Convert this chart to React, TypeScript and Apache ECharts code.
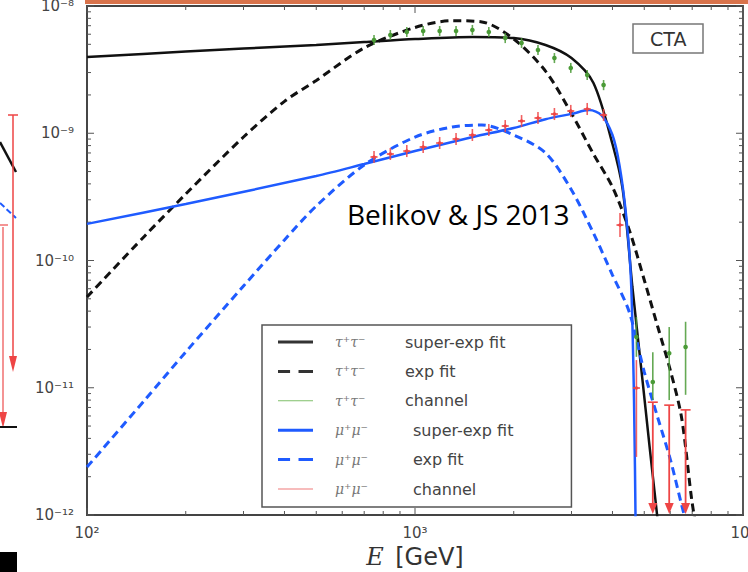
import React, { useEffect, useRef } from 'react';
import * as echarts from 'echarts';

// ---- fitted curves (E in GeV, flux) ----
const tauSuperE = [100, 200, 300, 500, 700, 1000, 1500, 2000, 2500, 3000, 3500, 4000, 4300, 4600, 4900, 5200, 5600];
const tauSuperF = [3.97e-9, 4.39e-9, 4.63e-9, 4.94e-9, 5.21e-9, 5.5e-9, 5.71e-9, 5.6e-9, 4.94e-9, 3.9e-9, 2.48e-9, 8.23e-10, 3.58e-10, 6.19e-11, 1.38e-11, 3.3e-12, 5.8e-13];

const tauExpE = [100, 150, 200, 300, 400, 500, 700, 1000, 1300, 1600, 2000, 2500, 3000, 3500, 4000, 4500, 5000, 5500, 6000, 6500, 7000, 7500];
const tauExpF = [5.17e-11, 1.56e-10, 3.33e-10, 9.34e-10, 1.78e-9, 2.6e-9, 4.68e-9, 6.78e-9, 7.66e-9, 7.5e-9, 5.5e-9, 3.08e-9, 1.43e-9, 6.87e-10, 3.78e-10, 1.74e-10, 7.03e-11, 3.0e-11, 1.38e-11, 5.79e-12, 1.24e-12, 4.4e-13];

const muSuperE = [100, 200, 500, 700, 1000, 1500, 2000, 2500, 3000, 3400, 3700, 4000, 4200, 4400, 4555, 4653, 4718];
const muSuperF = [1.94e-10, 2.78e-10, 4.61e-10, 5.73e-10, 7.25e-10, 9.34e-10, 1.1e-9, 1.29e-9, 1.42e-9, 1.52e-9, 1.39e-9, 9.69e-10, 5.63e-10, 2.28e-10, 7.03e-11, 8.0e-12, 4.4e-13];

const muExpE = [100, 150, 200, 300, 400, 500, 700, 1000, 1300, 1600, 2000, 2500, 3000, 3500, 4000, 4500, 5000, 5500, 6000, 6500, 7000];
const muExpF = [2.38e-12, 8.01e-12, 1.91e-11, 6.3e-11, 1.45e-10, 2.68e-10, 5.63e-10, 9.34e-10, 1.12e-9, 1.16e-9, 9.69e-10, 7.0e-10, 3.58e-10, 1.64e-10, 7.69e-11, 3.94e-11, 1.33e-11, 5.79e-12, 2.75e-12, 1.2e-12, 5.7e-13];

// ---- simulated channel points with error bars ----
const tauChE = [750, 841, 944, 1059, 1189, 1334, 1496, 1679, 1884, 2113, 2371, 2661, 2985, 3350, 3758, 4732, 5309, 5957, 6683];
const tauChF = [5.4e-9, 5.92e-9, 6.25e-9, 6.36e-9, 6.36e-9, 6.36e-9, 6.48e-9, 6.25e-9, 5.6e-9, 5.12e-9, 4.51e-9, 3.9e-9, 3.26e-9, 2.87e-9, 2.39e-9, 2.5e-11, 1.11e-11, 1.87e-11, 2.09e-11];
const tauChLo = [4.93e-9, 5.41e-9, 5.71e-9, 5.81e-9, 5.81e-9, 5.81e-9, 5.92e-9, 5.71e-9, 5.11e-9, 4.68e-9, 4.12e-9, 3.56e-9, 2.98e-9, 2.62e-9, 2.18e-9, 1.75e-11, 8.0e-12, 8.0e-12, 8.8e-12];
const tauChHi = [5.91e-9, 6.48e-9, 6.84e-9, 6.96e-9, 6.96e-9, 6.96e-9, 7.1e-9, 6.84e-9, 6.13e-9, 5.61e-9, 4.94e-9, 4.27e-9, 3.57e-9, 3.14e-9, 2.62e-9, 3.6e-11, 1.9e-11, 3.0e-11, 3.3e-11];

const muChE = [750, 841, 944, 1059, 1189, 1334, 1496, 1679, 1884, 2113, 2371, 2661, 2985, 3350, 3758, 4217, 4732];
const muChF = [6.51e-10, 6.87e-10, 7.25e-10, 7.8e-10, 8.38e-10, 9.01e-10, 9.69e-10, 1.06e-9, 1.14e-9, 1.248e-9, 1.318e-9, 1.416e-9, 1.496e-9, 1.551e-9, 1.391e-9, 1.9e-10, 9.95e-12];
const muChLo = [5.84e-10, 6.16e-10, 6.5e-10, 7.0e-10, 7.52e-10, 8.08e-10, 8.69e-10, 9.51e-10, 1.02e-9, 1.12e-9, 1.18e-9, 1.27e-9, 1.34e-9, 1.39e-9, 1.25e-9, 1.53e-10, 2.86e-12];
const muChHi = [7.26e-10, 7.66e-10, 8.08e-10, 8.7e-10, 9.34e-10, 1.005e-9, 1.08e-9, 1.18e-9, 1.27e-9, 1.39e-9, 1.47e-9, 1.58e-9, 1.67e-9, 1.73e-9, 1.55e-9, 2.36e-10, 1.65e-11];

const muLimE = [5309, 5957, 6683];
const muLimF = [7.7e-12, 7.3e-12, 6.7e-12];
const muLimTip = [1.0e-12, 1.0e-12, 1.0e-12];

// ---- axes ----
const xTickValues = [100, 1000, 10000];
const xTickLabels = ['10²', '10³', '10⁴'];
const yTickValues = [1e-12, 1e-11, 1e-10, 1e-9, 1e-8];
const yTickLabels = ['10⁻¹²', '10⁻¹¹', '10⁻¹⁰', '10⁻⁹', '10⁻⁸'];
const minorXTicks = [200, 300, 400, 500, 600, 700, 800, 900, 2000, 3000, 4000, 5000, 6000, 7000, 8000, 9000];
const minorYTicks = [
  2e-12, 3e-12, 4e-12, 5e-12, 6e-12, 7e-12, 8e-12, 9e-12,
  2e-11, 3e-11, 4e-11, 5e-11, 6e-11, 7e-11, 8e-11, 9e-11,
  2e-10, 3e-10, 4e-10, 5e-10, 6e-10, 7e-10, 8e-10, 9e-10,
  2e-9, 3e-9, 4e-9, 5e-9, 6e-9, 7e-9, 8e-9, 9e-9,
];

const NAMES = {
  tauSuper: 'τ⁺τ⁻ super-exp fit',
  tauExp: 'τ⁺τ⁻ exp fit',
  tauCh: 'τ⁺τ⁻ channel',
  muSuper: 'μ⁺μ⁻ super-exp fit',
  muExp: 'μ⁺μ⁻ exp fit',
  muCh: 'μ⁺μ⁻ channel',
};

const BLACK = '#111111';
const BLUE = '#1f5bff';
const GREEN = '#4a9a36';
const RED = '#ee4545';

const SOLID_ICON = 'path://M0,0H35V3H0Z';
const DASH_ICON = 'path://M0,0H10V2.5H0Z M17,0H29V2.5H17Z';
const THIN_ICON = 'path://M0,0H40V1.3H0Z';

const zip = (a: number[], b: number[]) => a.map((v, i) => [v, b[i]]);
const zip4 = (a: number[], b: number[], c: number[], d: number[]) => a.map((v, i) => [v, b[i], c[i], d[i]]);

function findLabel(values: number[], labels: string[], v: number) {
  const lv = Math.log10(v);
  const i = values.findIndex((t) => Math.abs(Math.log10(t) - lv) < 0.01);
  return i >= 0 ? labels[i] : '';
}

export default function App() {
  const ref = useRef<HTMLDivElement>(null);
  useEffect(() => {
    if (!ref.current) return;
    const chart = echarts.init(ref.current, null, { renderer: 'svg' });

    const tickData: number[][] = [];
    minorXTicks.forEach((v) => tickData.push([v, 1e-10, 0]));
    minorYTicks.forEach((v) => tickData.push([1000, v, 1]));
    xTickValues.forEach((v) => tickData.push([v, 1e-10, 2]));
    yTickValues.forEach((v) => tickData.push([1000, v, 3]));

    const tickStyle = { stroke: '#555', lineWidth: 1 };
    const noLine = { width: 0, type: 'solid' };

    const option: any = {
      animation: false,
      backgroundColor: '#ffffff',
      grid: {
        left: 87, right: 5, top: 6, bottom: 57,
        outerBoundsMode: 'none', containLabel: false,
        show: true, borderColor: '#444', borderWidth: 1.8, backgroundColor: 'transparent',
      },
      title: [
        {
          text: 'CTA', left: 633, top: 24,
          borderColor: '#777', borderWidth: 1.5, padding: [5, 17, 5, 17],
          textStyle: { fontFamily: 'DejaVu Sans', fontWeight: 'normal', fontSize: 19, color: '#333' },
        },
        {
          text: 'Belikov & JS 2013', left: 342, top: 195,
          textStyle: { fontFamily: 'Open Sans', fontWeight: 'normal', fontSize: 28, color: '#000' },
        },
      ],
      legend: {
        left: 262, top: 325, orient: 'vertical',
        itemWidth: 35, itemHeight: 14, itemGap: 13.4,
        padding: [9, 58, 10, 16],
        borderColor: '#555', borderWidth: 1.5, backgroundColor: '#fff',
        selectedMode: false,
        data: [
          { name: NAMES.tauSuper, icon: SOLID_ICON, itemStyle: { color: '#333', borderWidth: 0 }, lineStyle: noLine },
          { name: NAMES.tauExp, icon: DASH_ICON, itemStyle: { color: '#333', borderWidth: 0 }, lineStyle: noLine },
          { name: NAMES.tauCh, icon: THIN_ICON, itemStyle: { color: '#7fbf6a', borderWidth: 0 }, lineStyle: noLine },
          { name: NAMES.muSuper, icon: SOLID_ICON, itemStyle: { color: BLUE, borderWidth: 0 }, lineStyle: noLine },
          { name: NAMES.muExp, icon: DASH_ICON, itemStyle: { color: BLUE, borderWidth: 0 }, lineStyle: noLine },
          { name: NAMES.muCh, icon: THIN_ICON, itemStyle: { color: '#f07a7a', borderWidth: 0 }, lineStyle: noLine },
        ],
        formatter: (name: string) => {
          const sp = name.indexOf(' ');
          const p = name.slice(0, sp);
          const t = name.slice(sp + 1);
          const isMu = p.startsWith('μ');
          return `{${isMu ? 'pm' : 'pt'}|${p}}{t|${t}}`;
        },
        textStyle: {
          rich: {
            pt: { fontFamily: 'DejaVu Serif', fontStyle: 'italic', fontSize: 14, color: '#777', width: 70, padding: [0, 0, 0, 17] },
            pm: { fontFamily: 'DejaVu Serif', fontStyle: 'italic', fontSize: 14, color: '#777', width: 78, padding: [0, 0, 0, 17] },
            t: { fontFamily: 'DejaVu Sans', fontSize: 16, color: '#444' },
          },
        },
      },
      xAxis: {
        type: 'log', logBase: 10, min: 100, max: 10000,
        axisLine: { show: true, lineStyle: { color: '#444', width: 1.8 } },
        axisTick: { show: false },
        splitLine: { show: false },
        axisLabel: {
          margin: 10,
          fontFamily: 'DejaVu Sans', fontSize: 15, color: '#444',
          formatter: (v: number) => findLabel(xTickValues, xTickLabels, v),
        },
        name: '{e|E} {g|[GeV]}',
        nameLocation: 'middle',
        nameGap: 29,
        nameTextStyle: {
          rich: {
            e: { fontFamily: 'DejaVu Serif', fontStyle: 'italic', fontSize: 24, color: '#333', padding: [0, 8, 0, 0] },
            g: { fontFamily: 'DejaVu Sans', fontSize: 24, color: '#333' },
          },
        },
      },
      yAxis: {
        type: 'log', logBase: 10, min: 1e-12, max: 1e-8,
        axisLine: { show: true, lineStyle: { color: '#444', width: 1.8 } },
        axisTick: { show: false },
        splitLine: { show: false },
        axisLabel: {
          margin: 13,
          fontFamily: 'DejaVu Sans', fontSize: 15, color: '#444',
          formatter: (v: number) => findLabel(yTickValues, yTickLabels, v),
        },
      },
      graphic: [
        { type: 'rect', shape: { x: 85, y: 0, width: 663, height: 4 }, style: { fill: '#d9734b' }, silent: true },
        { type: 'rect', shape: { x: 0, y: 552, width: 17, height: 20 }, style: { fill: '#000' }, silent: true },
        { type: 'line', shape: { x1: 0, y1: 142, x2: 16, y2: 172 }, style: { stroke: BLACK, lineWidth: 2.5 }, silent: true },
        { type: 'line', shape: { x1: 0, y1: 203, x2: 16, y2: 218 }, style: { stroke: BLUE, lineWidth: 2, lineDash: [6, 3] }, silent: true },
        { type: 'line', shape: { x1: 13, y1: 115, x2: 13, y2: 360 }, style: { stroke: RED, lineWidth: 1.5 }, silent: true },
        { type: 'line', shape: { x1: 8, y1: 115, x2: 18, y2: 115 }, style: { stroke: RED, lineWidth: 1.5 }, silent: true },
        { type: 'polygon', shape: { points: [[9, 356], [17, 356], [13, 372]] }, style: { fill: RED }, silent: true },
        { type: 'line', shape: { x1: 3, y1: 227, x2: 3, y2: 416 }, style: { stroke: '#f07070', lineWidth: 1.5 }, silent: true },
        { type: 'line', shape: { x1: 0, y1: 225, x2: 8, y2: 225 }, style: { stroke: '#f07070', lineWidth: 1.5 }, silent: true },
        { type: 'polygon', shape: { points: [[-1, 412], [7, 412], [3, 428]] }, style: { fill: RED }, silent: true },
        { type: 'line', shape: { x1: 0, y1: 427, x2: 17, y2: 427 }, style: { stroke: BLACK, lineWidth: 2 }, silent: true },
      ],
      series: [
        {
          type: 'custom', name: 'ticks', silent: true, z: 1,
          encode: { x: 0, y: 1 },
          data: tickData,
          renderItem: (params: any, api: any) => {
            const cs = params.coordSys;
            const kind = api.value(2);
            const p = api.coord([api.value(0), api.value(1)]);
            const len = kind >= 2 ? 7 : 4;
            if (kind === 0 || kind === 2) {
              return {
                type: 'group', children: [
                  { type: 'line', shape: { x1: p[0], y1: cs.y + cs.height, x2: p[0], y2: cs.y + cs.height - len }, style: tickStyle },
                  { type: 'line', shape: { x1: p[0], y1: cs.y, x2: p[0], y2: cs.y + len }, style: tickStyle },
                ],
              };
            }
            return {
              type: 'group', children: [
                { type: 'line', shape: { x1: cs.x, y1: p[1], x2: cs.x + len, y2: p[1] }, style: tickStyle },
                { type: 'line', shape: { x1: cs.x + cs.width, y1: p[1], x2: cs.x + cs.width - len, y2: p[1] }, style: tickStyle },
              ],
            };
          },
        },
        {
          type: 'line', name: NAMES.tauSuper, data: zip(tauSuperE, tauSuperF),
          showSymbol: false, symbol: 'none', smooth: 0.3, clip: true, z: 3,
          lineStyle: { color: BLACK, width: 2.5 }, itemStyle: { color: BLACK },
        },
        {
          type: 'line', name: NAMES.tauExp, data: zip(tauExpE, tauExpF),
          showSymbol: false, symbol: 'none', smooth: 0.3, clip: true, z: 3,
          lineStyle: { color: BLACK, width: 3, type: [8, 5] }, itemStyle: { color: BLACK },
        },
        {
          type: 'line', name: NAMES.muSuper, data: zip(muSuperE, muSuperF),
          showSymbol: false, symbol: 'none', smooth: 0.3, clip: true, z: 3,
          lineStyle: { color: BLUE, width: 2.5 }, itemStyle: { color: BLUE },
        },
        {
          type: 'line', name: NAMES.muExp, data: zip(muExpE, muExpF),
          showSymbol: false, symbol: 'none', smooth: 0.3, clip: true, z: 3,
          lineStyle: { color: BLUE, width: 3, type: [8, 5] }, itemStyle: { color: BLUE },
        },
        {
          type: 'custom', name: NAMES.tauCh, z: 4, clip: true,
          itemStyle: { color: GREEN },
          encode: { x: 0, y: 1 },
          data: zip4(tauChE, tauChF, tauChLo, tauChHi),
          renderItem: (params: any, api: any) => {
            const c = api.coord([api.value(0), api.value(1)]);
            const lo = api.coord([api.value(0), api.value(2)]);
            const hi = api.coord([api.value(0), api.value(3)]);
            return {
              type: 'group', children: [
                { type: 'line', shape: { x1: c[0], y1: lo[1], x2: c[0], y2: hi[1] }, style: { stroke: GREEN, lineWidth: 1.6, opacity: 0.85 } },
                { type: 'circle', shape: { cx: c[0], cy: c[1], r: 2.3 }, style: { fill: GREEN } },
              ],
            };
          },
        },
        {
          type: 'custom', name: NAMES.muCh, z: 4, clip: true,
          itemStyle: { color: RED },
          encode: { x: 0, y: 1 },
          data: zip4(muChE, muChF, muChLo, muChHi),
          renderItem: (params: any, api: any) => {
            const c = api.coord([api.value(0), api.value(1)]);
            const lo = api.coord([api.value(0), api.value(2)]);
            const hi = api.coord([api.value(0), api.value(3)]);
            return {
              type: 'group', children: [
                { type: 'line', shape: { x1: c[0], y1: lo[1], x2: c[0], y2: hi[1] }, style: { stroke: RED, lineWidth: 1.6, opacity: 0.85 } },
                { type: 'line', shape: { x1: c[0] - 3.5, y1: c[1], x2: c[0] + 3.5, y2: c[1] }, style: { stroke: RED, lineWidth: 1.6 } },
                { type: 'circle', shape: { cx: c[0], cy: c[1], r: 1.8 }, style: { fill: RED } },
              ],
            };
          },
        },
        {
          type: 'custom', name: 'μ⁺μ⁻ upper limits', z: 4, clip: true,
          itemStyle: { color: RED },
          encode: { x: 0, y: 1 },
          data: muLimE.map((e, i) => [e, muLimF[i], muLimTip[i]]),
          renderItem: (params: any, api: any) => {
            const top = api.coord([api.value(0), api.value(1)]);
            const tip = api.coord([api.value(0), api.value(2)]);
            const x = top[0];
            return {
              type: 'group', children: [
                { type: 'line', shape: { x1: x - 5, y1: top[1], x2: x + 5, y2: top[1] }, style: { stroke: RED, lineWidth: 1.6 } },
                { type: 'line', shape: { x1: x, y1: top[1], x2: x, y2: tip[1] - 8 }, style: { stroke: RED, lineWidth: 1.8 } },
                { type: 'polygon', shape: { points: [[x - 4.5, tip[1] - 12], [x + 4.5, tip[1] - 12], [x, tip[1] - 1]] }, style: { fill: RED } },
              ],
            };
          },
        },
      ],
    };

    chart.setOption(option);
    return () => chart.dispose();
  }, []);

  return <div ref={ref} style={{ position: 'absolute', left: 0, top: 0, width: 748, height: 572 }} />;
}
